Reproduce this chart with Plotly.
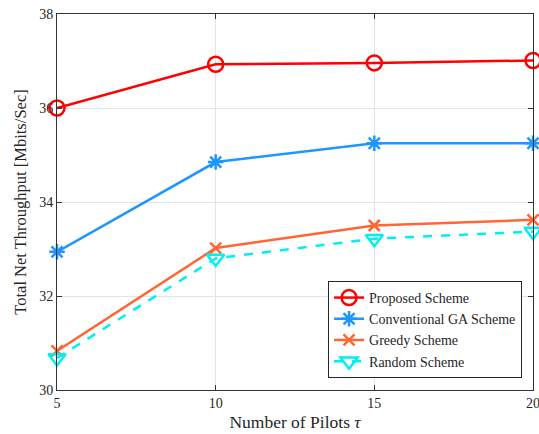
import plotly.graph_objects as go

# Number of pilots on the x axis
pilots = [5, 10, 15, 20]

# Total net throughput (Mbits/Sec) per scheme
proposed = [36.00, 36.93, 36.96, 37.01]
conventional_ga = [32.94, 34.85, 35.25, 35.25]
greedy = [30.83, 33.02, 33.50, 33.62]
random_scheme = [30.68, 32.80, 33.22, 33.37]

series_names = ["Proposed Scheme", "Conventional GA Scheme", "Greedy Scheme", "Random Scheme"]

FONT = "Liberation Serif"
TEXT = "#262626"

fig = go.Figure()

styles = [
    (proposed, "#FF0000", "circle-open", 15, "solid"),
    (conventional_ga, "#1E96FF", "asterisk-open", 13, "solid"),
    (greedy, "#FF6633", "x-thin-open", 11, "solid"),
    (random_scheme, "#00F0F0", "triangle-down-open", 15, "dash"),
]

for name, (vals, color, sym, size, dash) in zip(series_names, styles):
    fig.add_trace(go.Scatter(
        x=pilots, y=vals, name=name, mode="lines+markers",
        line=dict(color=color, width=2.5, dash=dash),
        marker=dict(symbol=sym, size=size, color=color,
                    line=dict(color=color, width=2.5)),
        cliponaxis=False,
    ))

fig.update_layout(
    width=539, height=434,
    margin=dict(l=57, r=6, t=14, b=44),
    paper_bgcolor="white", plot_bgcolor="white",
    font=dict(family=FONT, size=14, color=TEXT),
    showlegend=True,
    legend=dict(
        x=0.977, y=0.032, xanchor="right", yanchor="bottom",
        bgcolor="white", bordercolor=TEXT, borderwidth=1,
        font=dict(family=FONT, size=14, color=TEXT),
        tracegroupgap=0,
    ),
)

fig.update_xaxes(
    range=[5, 20], tickvals=[5, 10, 15, 20],
    showgrid=True, gridcolor="#E3E3E3", gridwidth=1,
    showline=True, linecolor="#333333", linewidth=1, mirror="all",
    ticks="inside", ticklen=5, tickcolor="#333333",
    zeroline=False, ticklabeloverflow="allow", automargin=False,
    tickfont=dict(family=FONT, size=14, color=TEXT),
    title=dict(text="Number of Pilots <i>τ</i>", font=dict(family=FONT, size=17.5, color=TEXT), standoff=5),
)

fig.update_yaxes(
    range=[30, 38], tickvals=[30, 32, 34, 36, 38],
    showgrid=True, gridcolor="#E3E3E3", gridwidth=1,
    showline=True, linecolor="#333333", linewidth=1, mirror="all",
    ticks="inside", ticklen=5, tickcolor="#333333",
    zeroline=False, automargin=False,
    tickfont=dict(family=FONT, size=14, color=TEXT),
    title=dict(text="Total Net Throughput [Mbits/Sec]", font=dict(family=FONT, size=16.5, color=TEXT), standoff=8),
)

fig.write_html("out.html")
